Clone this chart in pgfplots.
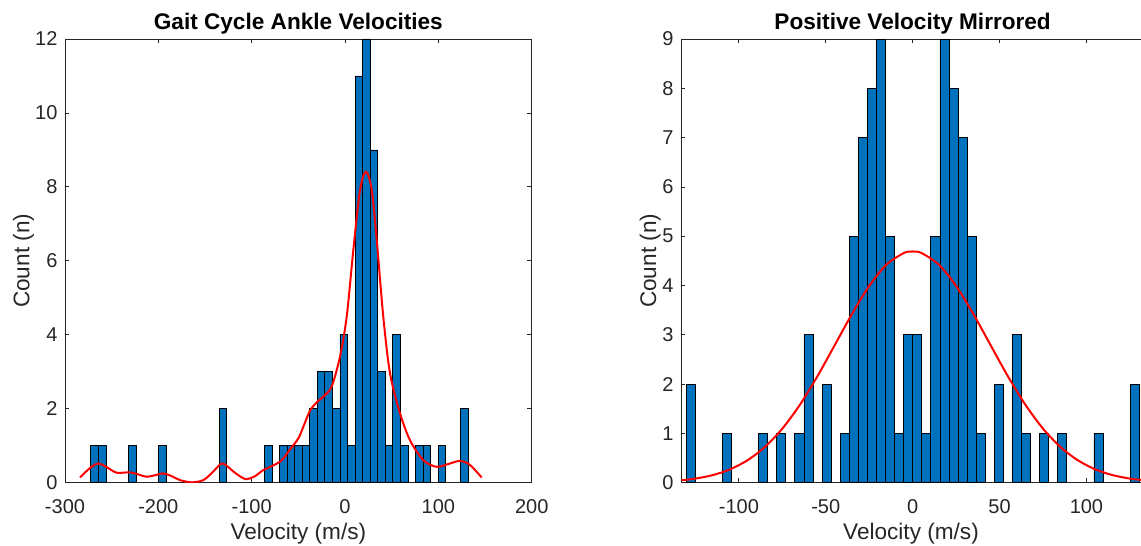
\documentclass[border=0pt]{standalone}
\usepackage{fontspec}
\setmainfont{Liberation Sans}
\usepackage{pgfplots}
\pgfplotsset{compat=1.18}
\definecolor{mblue}{RGB}{0,114,189}
\definecolor{axgray}{RGB}{38,38,38}
\pgfplotsset{mstyle/.style={
  scale only axis,
  axis line style={axgray, line width=0.4pt},
  every tick/.style={axgray, line width=0.4pt},
  tick align=inside, major tick length=2.2pt,
  /pgf/number format/assume math mode=true,
  ticklabel style={text=axgray, font=\fontsize{10}{12}\selectfont, inner sep=0pt},
  yticklabel style={anchor=east, xshift=-3.6pt},
  xticklabel style={anchor=base, yshift=-15.6pt},
  every axis x label/.style={at={(axis description cs:0.5,0)}, anchor=base, yshift=-28.6pt, text=axgray, font=\fontsize{11.3}{13}\selectfont, inner sep=0pt},
  every axis title/.style={at={(axis description cs:0.5,1)}, anchor=base, yshift=4.9pt, font=\bfseries\fontsize{11.3}{13}\selectfont, inner sep=0pt},
  ymin=0, enlargelimits=false,
  xlabel={Velocity (m/s)}, ylabel={Count (n)},
}}
\begin{document}
\begin{tikzpicture}
\begin{axis}[mstyle,
  at={(32.5pt,31.65pt)}, anchor=south west,
  width=233.35pt, height=221.85pt,
  xmin=-300, xmax=200, ymax=12,
  xtick={-300,-200,-100,0,100,200}, ytick={0,2,4,6,8,10,12},
  every axis y label/.style={at={(axis description cs:0,0.5)}, xshift=-17.85pt, rotate=90, anchor=base, text=axgray, font=\fontsize{11.3}{13}\selectfont, inner sep=0pt},
  title={Gait Cycle Ankle Velocities}]
\addplot[ybar, bar width=8.09, fill=mblue, draw=black, line width=0.35pt] coordinates {
(-268.355,1) (-260.265,1) (-227.905,1) (-195.545,1) (-130.825,2) (-82.285,1)
(-66.105,1) (-58.015,1) (-49.925,1) (-41.835,1) (-33.745,2) (-25.655,3)
(-17.565,3) (-9.475,2) (-1.385,4) (6.705,1) (14.795,11) (22.885,12)
(30.975,9) (39.065,3) (47.155,1) (55.245,4) (63.335,1) (79.515,1)
(87.605,1) (103.785,1) (128.055,2)};
\addplot[red, line width=1pt, smooth] coordinates {
(-283.9,0.14) (-274,0.38) (-264.3,0.52) (-254,0.40) (-244.6,0.27) (-230.3,0.28)
(-221,0.22) (-212.5,0.16) (-204,0.20) (-194.7,0.25) (-185,0.17) (-176.8,0.07)
(-164.3,0.01) (-151.8,0.07) (-142,0.28) (-132.1,0.52) (-124,0.40) (-119.6,0.30)
(-107.1,0.10) (-97,0.17) (-87.5,0.34) (-69.6,0.57) (-58.9,0.90) (-50,1.20)
(-44.7,1.51) (-37.5,1.95) (-30,2.18) (-23.2,2.33) (-14.3,2.60) (-5.4,3.41)
(1.8,4.49) (8.9,6.29) (16.1,7.92) (22.5,8.41) (28.6,7.92) (34,6.56)
(41,4.49) (48.2,2.96) (58.9,1.88) (69.6,1.15) (83.9,0.61) (98.2,0.43)
(112.5,0.52) (123.2,0.59) (133.9,0.48) (146.4,0.14)};
\end{axis}
\begin{axis}[mstyle,
  at={(340.5pt,31.65pt)}, anchor=south west,
  width=230pt, height=221.85pt,
  xmin=-133.3, xmax=131.4, ymax=9,
  axis x line*=box, axis y line*=left,
  every outer x axis line/.append style={-},
  every outer y axis line/.append style={-},
  xtick={-100,-50,0,50,100}, ytick={0,1,...,9},
  every axis y label/.style={at={(axis description cs:0,0.5)}, xshift=-12.5pt, rotate=90, anchor=base, text=axgray, font=\fontsize{11.3}{13}\selectfont, inner sep=0pt},
  every axis title/.style={at={(axis cs:0,9)}, anchor=base, yshift=4.9pt, font=\bfseries\fontsize{11.3}{13}\selectfont, inner sep=0pt},
  title={Positive Velocity Mirrored}]
\addplot[ybar, bar width=5.216, fill=mblue, draw=black, line width=0.35pt] coordinates {
(-127.792,2) (-106.928,1) (-86.064,1) (-75.632,1) (-65.2,1) (-59.984,3)
(-49.552,2) (-39.12,1) (-33.904,5) (-28.688,7) (-23.472,8) (-18.256,9)
(-13.04,5) (-7.824,1) (-2.608,3)
(2.608,3) (7.824,1) (13.04,5) (18.256,9) (23.472,8) (28.688,7)
(33.904,5) (39.12,1) (49.552,2) (59.984,3) (65.2,1) (75.632,1)
(86.064,1) (106.928,1) (127.792,2)};
\addplot[red, line width=1pt, smooth] coordinates {
(-133,0.049) (-125,0.083) (-115,0.154) (-105,0.272) (-95,0.456) (-85,0.726)
(-75,1.097) (-65,1.575) (-55,2.147) (-45,2.780) (-35,3.418) (-25,3.991)
(-15,4.425) (-5,4.660) (0,4.69) (5,4.660) (15,4.425) (25,3.991)
(35,3.418) (45,2.780) (55,2.147) (65,1.575) (75,1.097) (85,0.726)
(95,0.456) (105,0.272) (115,0.154) (125,0.083) (131.4,0.057)};
\end{axis}
\pgfresetboundingbox
\path[use as bounding box] (0,0) rectangle (570.5pt,273pt);
\end{tikzpicture}
\end{document}
